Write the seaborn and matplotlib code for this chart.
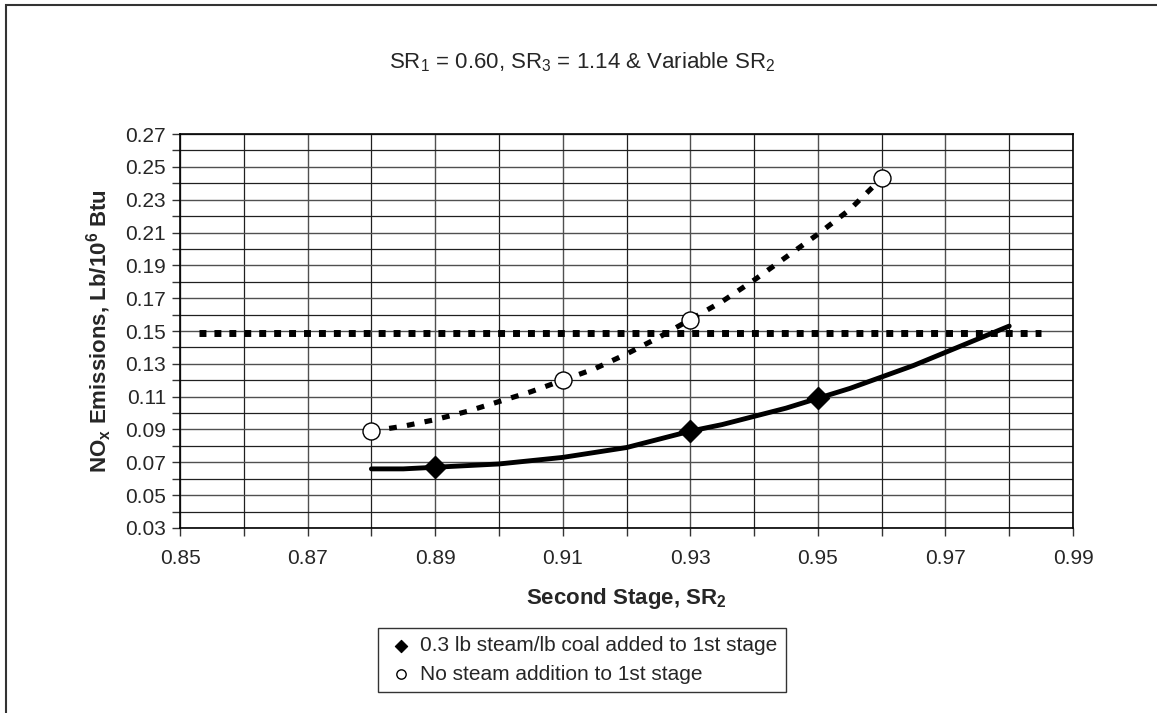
import matplotlib
matplotlib.use('Agg')
import matplotlib.pyplot as plt
from matplotlib.patches import Rectangle
from matplotlib.ticker import FixedLocator, FormatStrFormatter
import numpy as np
import pandas as pd
import seaborn as sns

# --- data ---
steam_curve_x = [0.88, 0.885, 0.89, 0.895, 0.90, 0.905, 0.91, 0.915, 0.92, 0.925, 0.93,
                 0.935, 0.94, 0.945, 0.95, 0.955, 0.96, 0.965, 0.97, 0.975, 0.98]
steam_curve_y = [0.066, 0.066, 0.067, 0.068, 0.069, 0.071, 0.073, 0.076, 0.079, 0.084, 0.089,
                 0.093, 0.098, 0.103, 0.109, 0.115, 0.122, 0.129, 0.137, 0.145, 0.153]
steam_pts_x = [0.89, 0.93, 0.95]
steam_pts_y = [0.067, 0.089, 0.109]

nosteam_curve_x = [0.88, 0.885, 0.89, 0.895, 0.90, 0.905, 0.91, 0.915, 0.92, 0.925, 0.93,
                   0.935, 0.94, 0.945, 0.95, 0.955, 0.96]
nosteam_curve_y = [0.089, 0.092, 0.096, 0.101, 0.107, 0.113, 0.120, 0.127, 0.136, 0.146, 0.157,
                   0.168, 0.181, 0.195, 0.209, 0.224, 0.243]
nosteam_pts_x = [0.88, 0.91, 0.93, 0.96]
nosteam_pts_y = [0.089, 0.120, 0.157, 0.243]

limit_x = [0.853, 0.985]
limit_y = [0.149, 0.149]

x_major = [0.85, 0.87, 0.89, 0.91, 0.93, 0.95, 0.97, 0.99]
x_minor = [0.86, 0.88, 0.90, 0.92, 0.94, 0.96, 0.98]
y_major = [0.03, 0.05, 0.07, 0.09, 0.11, 0.13, 0.15, 0.17, 0.19, 0.21, 0.23, 0.25, 0.27]
y_minor = [0.04, 0.06, 0.08, 0.10, 0.12, 0.14, 0.16, 0.18, 0.20, 0.22, 0.24, 0.26]

legend_labels = ['0.3 lb steam/lb coal added to 1st stage', 'No steam addition to 1st stage']

sns.set_style('white')
plt.rcParams['font.family'] = ['Liberation Sans', 'DejaVu Sans']
plt.rcParams['mathtext.fontset'] = 'custom'
plt.rcParams['mathtext.rm'] = 'Liberation Sans'
plt.rcParams['mathtext.it'] = 'Liberation Sans:italic'
plt.rcParams['mathtext.bf'] = 'Liberation Sans:bold'

fig = plt.figure(figsize=(11.57, 7.13), dpi=100)
ax = fig.add_axes([0.1556, 0.2595, 0.9274 - 0.1556, 0.812 - 0.2595])

# outer chart frame
fig.patches.append(Rectangle((6 / 1157, -0.05), 1.2, 1 - 5 / 713 + 0.05, transform=fig.transFigure,
                             fill=False, edgecolor='#333333', linewidth=1.5))

# grid
ax.xaxis.set_major_locator(FixedLocator(x_major))
ax.xaxis.set_minor_locator(FixedLocator(x_minor))
ax.yaxis.set_major_locator(FixedLocator(y_major))
ax.yaxis.set_minor_locator(FixedLocator(y_minor))
ax.grid(True, which='major', color='#505050', linewidth=1.0)
ax.grid(True, which='minor', color='#202020', linewidth=0.9)
ax.set_axisbelow(True)

df_limit = pd.DataFrame({'x': limit_x, 'y': limit_y})
sns.lineplot(data=df_limit, x='x', y='y', ax=ax, color='black', linewidth=5,
             estimator=None, sort=False)
ax.lines[-1].set_dashes((1.0, 1.15))
ax.lines[-1].set_dash_capstyle('butt')

df_steam = pd.DataFrame({'x': steam_curve_x, 'y': steam_curve_y})
sns.lineplot(data=df_steam, x='x', y='y', ax=ax, color='black', linewidth=3.5,
             estimator=None, sort=False)

df_nosteam = pd.DataFrame({'x': nosteam_curve_x, 'y': nosteam_curve_y})
sns.lineplot(data=df_nosteam, x='x', y='y', ax=ax, color='black', linewidth=3.7,
             estimator=None, sort=False)
ax.lines[-1].set_dashes((1.5, 2.0))

sns.scatterplot(x=steam_pts_x, y=steam_pts_y, ax=ax, marker='D', s=130, color='black',
                edgecolor='black', linewidth=0.8, label=legend_labels[0], zorder=5)
sns.scatterplot(x=nosteam_pts_x, y=nosteam_pts_y, ax=ax, marker='o', s=150, facecolor='white',
                edgecolor='black', linewidth=1.0, label=legend_labels[1], zorder=5)

ax.set_xlim(0.85, 0.99)
ax.set_ylim(0.03, 0.27)
ax.xaxis.set_major_formatter(FormatStrFormatter('%.2f'))
ax.yaxis.set_major_formatter(FormatStrFormatter('%.2f'))
ax.tick_params(axis='both', which='both', labelsize=15, direction='out', length=6,
               width=1, color='#333333', bottom=True, left=True)
ax.tick_params(axis='x', which='major', pad=9)
ax.tick_params(axis='y', which='major', pad=4)

for sp in ax.spines.values():
    sp.set_visible(True)
    sp.set_color('black')
    sp.set_linewidth(1.2)

ax.set_xlabel(r'Second Stage, SR$_\mathbf{2}$', fontsize=16, fontweight='bold', labelpad=13)
ax.set_ylabel(r'NO$_\mathbf{x}$ Emissions, Lb/10$^\mathbf{6}$ Btu', fontsize=16,
              fontweight='bold', labelpad=8)

fig.text(0.503, 1 - 62 / 713, r'SR$_1$ = 0.60, SR$_3$ = 1.14 & Variable SR$_2$',
         ha='center', va='center', fontsize=16)

leg = ax.legend(loc='center', bbox_to_anchor=(0.503, 1 - 660 / 713), bbox_transform=fig.transFigure,
                fontsize=15, frameon=True, fancybox=False, edgecolor='black', markerscale=0.55,
                handletextpad=0.2, borderpad=0.4, labelspacing=0.45, handlelength=1.4,
                borderaxespad=0)
leg.get_frame().set_linewidth(1.0)

fig.savefig('out.png', dpi=100)
